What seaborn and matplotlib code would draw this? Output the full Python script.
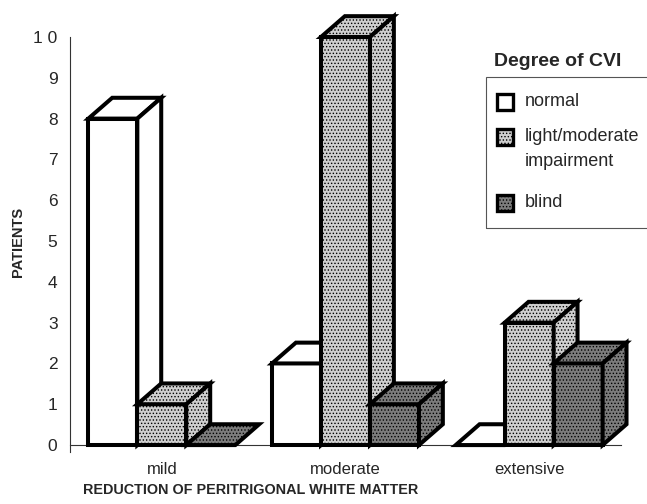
import numpy as np
import pandas as pd
import matplotlib
matplotlib.use("Agg")
import matplotlib.pyplot as plt
import seaborn as sns
from matplotlib.patches import Polygon, Rectangle

# data
categories = ["mild", "moderate", "extensive"]
cvi_levels = ["normal", "light/moderate\nimpairment", "blind"]
normal = [8, 2, 0]
light_moderate = [1, 10, 3]
blind = [0, 1, 2]

fill_colors = ["#ffffff", "#cfcfcf", "#7c7c7c"]
hatches = [None, ".....", "....."]

df = pd.DataFrame({
    "reduction": categories * 3,
    "cvi": [cvi_levels[0]] * 3 + [cvi_levels[1]] * 3 + [cvi_levels[2]] * 3,
    "patients": normal + light_moderate + blind,
})

sns.set_style("white")
plt.rcParams["font.family"] = ["Liberation Sans", "DejaVu Sans"]
plt.rcParams["hatch.linewidth"] = 0.6

fig = plt.figure(figsize=(6.47, 5.04), dpi=100)
ax = fig.add_axes([70 / 647, 52 / 504, 551 / 647, 439.5 / 504])

sns.barplot(data=df, x="reduction", y="patients", hue="cvi",
            order=categories, hue_order=cvi_levels, palette=fill_colors,
            width=0.8, edgecolor="black", linewidth=2.9, saturation=1,
            legend=False, ax=ax)

# fake 3D: add a top face and a side face to every bar
dx, dy = 0.13, 0.51
bars = list(ax.patches)
for i, p in enumerate(bars):
    lvl = i // len(categories)
    if hatches[lvl]:
        p.set_hatch(hatches[lvl])
    p.set_joinstyle("miter")

order = sorted(range(len(bars)), key=lambda i: bars[i].get_x())
for rank, i in enumerate(order):
    p = bars[i]
    lvl = i // len(categories)
    x0, w, h = p.get_x(), p.get_width(), p.get_height()
    x1 = x0 + w
    z = 3 + rank
    p.set_zorder(z)
    top = Polygon([(x0, h), (x0 + dx, h + dy), (x1 + dx, h + dy), (x1, h)],
                  closed=True, facecolor=fill_colors[lvl], edgecolor="black",
                  linewidth=2.9, hatch=hatches[lvl], joinstyle="miter",
                  zorder=z, clip_on=False)
    side = Polygon([(x1, 0), (x1, h), (x1 + dx, h + dy), (x1 + dx, dy)],
                   closed=True, facecolor=fill_colors[lvl], edgecolor="black",
                   linewidth=2.9, hatch=hatches[lvl], joinstyle="miter",
                   zorder=z, clip_on=False)
    ax.add_patch(top)
    if h > 0:
        ax.add_patch(side)

ax.set_xlim(-0.5, 2.5)
ax.set_ylim(-0.17, 10.6)
ax.set_yticks(range(0, 11))
ax.set_yticklabels([str(v) for v in range(0, 10)] + ["1 0"])
ax.set_xticks(range(len(categories)))
ax.set_xticklabels(categories)
ax.set_xticks([0.5, 1.5, 2.5], minor=True)
ax.tick_params(axis="x", which="major", length=0, pad=12, labelsize=12)
ax.tick_params(axis="x", which="minor", length=7, width=0.8, color="#333333", direction="out")
ax.tick_params(axis="y", length=6, width=0.8, color="#333333", labelsize=12.5, pad=3)
ax.set_xlabel("")
ax.set_ylabel("")

for s in ["top", "right"]:
    ax.spines[s].set_visible(False)
ax.spines["bottom"].set_position(("data", 0))
ax.spines["left"].set_bounds(-0.17, 10)
for s in ["left", "bottom"]:
    ax.spines[s].set_linewidth(0.8)
    ax.spines[s].set_color("#333333")
    ax.spines[s].set_zorder(1)

fig.text(18 / 647, 1 - 242 / 504, "PATIENTS", rotation=90, ha="center",
         va="center", fontsize=10.5, fontweight="bold")
fig.text(251 / 647, 1 - 490 / 504, "REDUCTION OF PERITRIGONAL WHITE MATTER",
         ha="center", va="center", fontsize=10.4, fontweight="bold")

# legend drawn by hand to keep the open box of the original
fig.text(558 / 647, 1 - 61 / 504, "Degree of CVI", ha="center", va="center",
         fontsize=14, fontweight="bold")
fig.patches.append(Rectangle((486 / 647, 1 - 228 / 504), 200 / 647, 151 / 504,
                             transform=fig.transFigure, fill=False,
                             edgecolor="#555555", linewidth=0.8))
entry_y = [102, 137, 203]
for lvl, (label, yy) in enumerate(zip(cvi_levels, entry_y)):
    fig.patches.append(Rectangle((497 / 647, 1 - (yy + 8) / 504), 16 / 647, 16 / 504,
                                 transform=fig.transFigure,
                                 facecolor=fill_colors[lvl], edgecolor="black",
                                 linewidth=2.4, hatch=hatches[lvl]))
    fig.text(525 / 647, 1 - (yy - 9) / 504, label, ha="left", va="top",
             fontsize=13, linespacing=1.6)

fig.savefig("out.png", dpi=100)
